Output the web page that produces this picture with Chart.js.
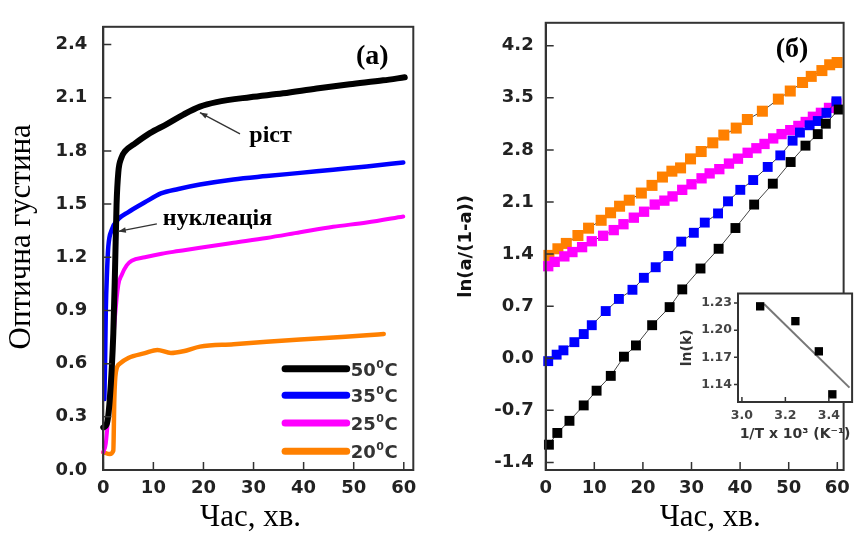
<!DOCTYPE html>
<html><head><meta charset="utf-8">
<script src="https://cdn.jsdelivr.net/npm/chart.js@4.4.0/dist/chart.umd.min.js"></script>
<style>
html,body{margin:0;padding:0;background:#fff;}
#wrap{position:relative;width:858px;height:533px;overflow:hidden;background:#fff;}
canvas{position:absolute;}
</style></head><body>
<div id="wrap">
<canvas id="ca" width="430" height="533" style="left:0;top:0;width:430px;height:533px"></canvas>
<canvas id="cb" width="428" height="533" style="left:430px;top:0;width:428px;height:533px"></canvas>
<canvas id="ci" width="188" height="165" style="left:670px;top:280px;width:188px;height:165px"></canvas>
</div>
<script>
// ---------- tick labels ----------
const timeTicks = [0, 10, 20, 30, 40, 50, 60];
const densityTicks = [0.0, 0.3, 0.6, 0.9, 1.2, 1.5, 1.8, 2.1, 2.4];
const lnTicks = [-1.4, -0.7, 0.0, 0.7, 1.4, 2.1, 2.8, 3.5, 4.2];
const invTTicks = [3.0, 3.2, 3.4];
const lnkTicks = [1.14, 1.17, 1.20, 1.23];

// ---------- series ----------
const tempLabels = ['50', '35', '25', '20'];
const seriesColors = ['#000000', '#0000ff', '#ff00ff', '#ff8000'];

// panel (a): optical density vs time
const timeA50 = [0.0, 0.7, 1.3, 2.0, 2.35, 2.65, 3.0, 3.6, 4.4, 6.0, 9.3, 12.6, 16.0, 19.3, 22.6, 29.3, 35.9, 42.6, 49.2, 55.9, 60.2];
const densA50 = [0.24, 0.26, 0.40, 0.77, 1.14, 1.50, 1.68, 1.76, 1.80, 1.835, 1.90, 1.95, 2.005, 2.05, 2.075, 2.103, 2.125, 2.152, 2.176, 2.198, 2.215];
const timeA35 = [0.2, 0.35, 0.5, 0.75, 1.0, 1.7, 3.0, 5.0, 8.3, 11.5, 15.0, 19.3, 26.0, 32.6, 39.3, 45.9, 52.6, 59.9];
const densA35 = [0.40, 0.60, 0.90, 1.12, 1.26, 1.355, 1.415, 1.455, 1.51, 1.56, 1.585, 1.61, 1.639, 1.658, 1.676, 1.694, 1.712, 1.735];
const timeA25 = [0.0, 0.5, 1.0, 1.67, 2.33, 3.0, 3.67, 4.67, 5.67, 8.3, 11.66, 15.0, 19.3, 26.0, 32.6, 39.3, 45.9, 52.6, 59.9];
const densA25 = [0.10, 0.15, 0.31, 0.586, 0.861, 1.044, 1.10, 1.154, 1.18, 1.20, 1.22, 1.235, 1.254, 1.282, 1.309, 1.341, 1.372, 1.396, 1.43];
const timeA20 = [0.0, 1.3, 2.0, 2.2, 2.5, 3.3, 5.0, 8.3, 10.8, 13.5, 16.0, 19.3, 26.0, 32.6, 39.3, 45.9, 52.6, 56.0];
const densA20 = [0.10, 0.09, 0.11, 0.40, 0.55, 0.60, 0.632, 0.659, 0.677, 0.66, 0.67, 0.696, 0.709, 0.723, 0.736, 0.748, 0.76, 0.767];

// panel (b): ln(a/(1-a)) vs time
const timeB50 = [0.66, 2.39, 4.89, 7.82, 10.47, 13.39, 16.1, 18.57, 21.9, 25.5, 28.1, 31.85, 35.58, 39.04, 42.89, 46.73, 50.4, 53.45, 55.98, 57.63, 60.28];
const lnB50 = [-1.162, -1.004, -0.841, -0.634, -0.436, -0.237, 0.021, 0.172, 0.444, 0.687, 0.925, 1.206, 1.471, 1.75, 2.065, 2.346, 2.637, 2.857, 3.012, 3.152, 3.342];
const timeB35 = [0.52, 2.25, 3.65, 5.9, 7.83, 9.48, 12.35, 15.06, 17.85, 20.2, 22.63, 25.22, 27.89, 30.48, 32.73, 35.46, 37.51, 40.04, 42.69, 45.68, 48.27, 50.8, 52.31, 54.3, 55.98, 57.77, 59.82];
const lnB35 = [-0.039, 0.048, 0.106, 0.216, 0.325, 0.444, 0.634, 0.797, 0.92, 1.081, 1.223, 1.374, 1.567, 1.686, 1.823, 1.946, 2.109, 2.263, 2.395, 2.571, 2.726, 2.924, 3.033, 3.131, 3.188, 3.298, 3.453];
const timeB25 = [0.52, 1.85, 3.84, 5.5, 7.49, 9.48, 11.81, 14.0, 16.0, 18.13, 20.24, 22.43, 24.42, 26.1, 28.09, 30.0, 32.07, 33.73, 35.72, 37.71, 39.56, 41.55, 43.35, 45.02, 46.81, 48.53, 50.32, 51.99, 53.5, 54.98, 56.63, 58.29, 59.82];
const lnB25 = [1.237, 1.295, 1.369, 1.427, 1.493, 1.572, 1.646, 1.722, 1.801, 1.889, 1.969, 2.065, 2.118, 2.175, 2.263, 2.338, 2.418, 2.484, 2.541, 2.616, 2.682, 2.761, 2.822, 2.88, 2.954, 3.012, 3.065, 3.122, 3.175, 3.245, 3.298, 3.364, 3.422];
const timeB20 = [0.66, 2.51, 4.24, 6.63, 8.82, 11.41, 13.35, 15.2, 17.19, 19.68, 21.87, 24.02, 25.96, 27.75, 29.8, 31.99, 34.38, 36.65, 39.2, 41.49, 44.58, 47.87, 50.32, 52.85, 54.64, 56.83, 58.43, 59.96];
const lnB20 = [1.382, 1.471, 1.543, 1.649, 1.748, 1.854, 1.955, 2.043, 2.124, 2.22, 2.323, 2.435, 2.514, 2.558, 2.679, 2.778, 2.895, 2.999, 3.093, 3.208, 3.32, 3.482, 3.591, 3.706, 3.788, 3.866, 3.944, 3.974];

// inset: ln(k) vs 1/T
const invT = [3.084, 3.246, 3.354, 3.416];
const lnK = [1.2264, 1.210, 1.1766, 1.129];
const fitInvT = [3.102, 3.495];
const fitLnK = [1.2289, 1.1364];

// ---------- helpers ----------
const pts = (xs, ys) => xs.map((x, i) => ({x: x, y: ys[i]}));
const tickFont = {family: '"DejaVu Sans", sans-serif', weight: 'bold', size: 18};
const serifTitle = {family: '"Liberation Serif", "Times New Roman", serif', size: 31, lineHeight: 1};
const setTicks = arr => s => { s.ticks = arr.map(v => ({value: v})); };

const boxPlugin = {
  id: 'box',
  beforeDraw(chart, args, o) {
    if (!o.fill) return;
    const c = chart.chartArea, ctx = chart.ctx;
    ctx.save(); ctx.fillStyle = o.fill;
    ctx.fillRect(c.left, c.top, c.right - c.left, c.bottom - c.top);
    ctx.restore();
  },
  afterDraw(chart, args, o) {
    const c = chart.chartArea, ctx = chart.ctx;
    const xs = chart.scales.x, ys = chart.scales.y;
    ctx.save();
    ctx.strokeStyle = o.color || '#333';
    ctx.lineWidth = o.width || 2;
    ctx.strokeRect(c.left, c.top, c.right - c.left, c.bottom - c.top);
    ctx.lineWidth = o.tickWidth || 1.5;
    ctx.beginPath();
    xs.ticks.forEach(t => {
      const px = xs.getPixelForValue(t.value);
      ctx.moveTo(px, c.bottom); ctx.lineTo(px, c.bottom - o.tickX);
    });
    ys.ticks.forEach(t => {
      const py = ys.getPixelForValue(t.value);
      ctx.moveTo(c.left, py); ctx.lineTo(c.left + o.tickY, py);
    });
    ctx.stroke();
    ctx.restore();
  }
};

const legendPlugin = {
  id: 'tempLegend',
  afterDraw(chart, args, o) {
    const ctx = chart.ctx, xs = chart.scales.x, ys = chart.scales.y;
    ctx.save();
    chart.data.datasets.forEach((ds, i) => {
      const y = ys.getPixelForValue(o.rows[i]);
      const x0 = xs.getPixelForValue(o.x0), x1 = xs.getPixelForValue(o.x1);
      ctx.strokeStyle = ds.borderColor; ctx.lineWidth = 7; ctx.lineCap = 'round';
      ctx.beginPath(); ctx.moveTo(x0, y); ctx.lineTo(x1, y); ctx.stroke();
      ctx.fillStyle = '#333'; ctx.textAlign = 'left'; ctx.textBaseline = 'alphabetic';
      let x = x1 + 4; const base = y + 7;
      ctx.font = 'bold 18px "DejaVu Sans"';
      ctx.fillText(tempLabels[i], x, base); x += ctx.measureText(tempLabels[i]).width;
      ctx.font = 'bold 11px "DejaVu Sans"';
      ctx.fillText('0', x + 0.5, base - 8); x += ctx.measureText('0').width + 1;
      ctx.font = 'bold 18px "DejaVu Sans"';
      ctx.fillText('C', x, base);
    });
    ctx.restore();
  }
};

const notesPlugin = {
  id: 'notes',
  afterDraw(chart, args, o) {
    const ctx = chart.ctx, xs = chart.scales.x, ys = chart.scales.y;
    ctx.save();
    (o.arrows || []).forEach(a => {
      const x1 = xs.getPixelForValue(a.from[0]), y1 = ys.getPixelForValue(a.from[1]);
      const x2 = xs.getPixelForValue(a.to[0]), y2 = ys.getPixelForValue(a.to[1]);
      ctx.strokeStyle = '#333'; ctx.fillStyle = '#333'; ctx.lineWidth = 1.3;
      ctx.beginPath(); ctx.moveTo(x1, y1); ctx.lineTo(x2, y2); ctx.stroke();
      const ang = Math.atan2(y2 - y1, x2 - x1), L = 8, W = 0.35;
      ctx.beginPath(); ctx.moveTo(x2, y2);
      ctx.lineTo(x2 - L * Math.cos(ang - W), y2 - L * Math.sin(ang - W));
      ctx.lineTo(x2 - L * Math.cos(ang + W), y2 - L * Math.sin(ang + W));
      ctx.closePath(); ctx.fill();
    });
    (o.items || []).forEach(it => {
      ctx.font = it.font; ctx.fillStyle = '#000';
      ctx.textAlign = 'center'; ctx.textBaseline = 'alphabetic';
      ctx.fillText(it.text, xs.getPixelForValue(it.x), ys.getPixelForValue(it.y));
    });
    ctx.restore();
  }
};

// ---------- panel (a) ----------
const aTimes = [timeA50, timeA35, timeA25, timeA20];
const aDens = [densA50, densA35, densA25, densA20];
const aWidths = [6, 4.5, 4, 4.5];
new Chart(document.getElementById('ca'), {
  type: 'scatter',
  data: {datasets: tempLabels.map((t, i) => ({
    label: t + '°C', data: pts(aTimes[i], aDens[i]), showLine: true,
    borderColor: seriesColors[i], backgroundColor: seriesColors[i], borderWidth: aWidths[i],
    pointRadius: 0, cubicInterpolationMode: 'monotone', clip: false, borderCapStyle: 'round', borderJoinStyle: 'round'
  }))},
  options: {
    responsive: false, animation: false, devicePixelRatio: 1,
    layout: {padding: {left: 0, right: 16.7, top: 15, bottom: 0}},
    plugins: {
      legend: {display: false}, tooltip: {enabled: false},
      box: {color: '#333', width: 2, tickX: 8, tickY: 8},
      tempLegend: {x0: 36.3, x1: 48.6, rows: [0.571, 0.421, 0.265, 0.106]},
      notes: {
        items: [
          {text: 'ріст', x: 33.4, y: 1.85, font: 'bold 24px "Liberation Serif"'},
          {text: 'нуклеація', x: 22.8, y: 1.383, font: 'bold 24px "Liberation Serif"'},
          {text: '(a)', x: 53.7, y: 2.29, font: 'bold 28px "Liberation Serif"'}
        ],
        arrows: [
          {from: [27.3, 1.896], to: [19.3, 2.016]},
          {from: [10.7, 1.388], to: [3.0, 1.346]}
        ]
      }
    },
    scales: {
      x: {type: 'linear', min: 0, max: 61.9, afterBuildTicks: setTicks(timeTicks), afterFit: s => { s.height = 63; },
        grid: {display: false, drawTicks: false}, border: {display: true, color: '#333', width: 2},
        ticks: {padding: 8, color: '#222', font: tickFont, callback: v => String(v)},
        title: {display: true, text: 'Час, хв.\u00a0\u00a0', color: '#000', font: serifTitle, padding: 0}},
      y: {type: 'linear', min: 0, max: 2.5, afterBuildTicks: setTicks(densityTicks), afterFit: s => { s.width = 103.3; },
        grid: {display: false, drawTicks: false}, border: {display: true, color: '#333', width: 2},
        ticks: {padding: 16, color: '#222', font: tickFont, callback: v => v.toFixed(1)},
        title: {display: true, text: '\u00a0\u00a0\u00a0Оптична густина', color: '#000', font: serifTitle, padding: {top: 6.5, bottom: 0}}}
    }
  },
  plugins: [boxPlugin, legendPlugin, notesPlugin]
});

// ---------- panel (b) ----------
const bTimes = [timeB50, timeB35, timeB25, timeB20];
const bLn = [lnB50, lnB35, lnB25, lnB20];
const bRadius = [7, 7, 7.3, 7.8];
new Chart(document.getElementById('cb'), {
  type: 'scatter',
  data: {datasets: tempLabels.map((t, i) => ({
    label: t + '°C', data: pts(bTimes[i], bLn[i]), showLine: true,
    borderColor: '#444', borderWidth: 1, pointStyle: 'rect', pointRadius: bRadius[i],
    pointBackgroundColor: seriesColors[i], pointBorderColor: seriesColors[i], pointBorderWidth: 0, clip: false
  }))},
  options: {
    responsive: false, animation: false, devicePixelRatio: 1,
    layout: {padding: {left: 0, right: 5, top: 15, bottom: 0}},
    plugins: {
      legend: {display: false}, tooltip: {enabled: false},
      box: {color: '#333', width: 2, tickX: 8, tickY: 8},
      notes: {items: [{text: '(б)', x: 50.69, y: 4.047, font: 'bold 28px "Liberation Serif"'}]}
    },
    scales: {
      x: {type: 'linear', min: 0, max: 61.3, afterBuildTicks: setTicks(timeTicks), afterFit: s => { s.height = 63; },
        grid: {display: false, drawTicks: false}, border: {display: true, color: '#333', width: 2},
        ticks: {padding: 8, color: '#222', font: tickFont, callback: v => String(v)},
        title: {display: true, text: '\u00a0\u00a0\u00a0\u00a0Час, хв.', color: '#000', font: serifTitle, padding: 0}},
      y: {type: 'linear', min: -1.502, max: 4.508, afterBuildTicks: setTicks(lnTicks), afterFit: s => { s.width = 115.7; },
        grid: {display: false, drawTicks: false}, border: {display: true, color: '#333', width: 2},
        ticks: {padding: 12, color: '#222', font: tickFont, callback: v => v.toFixed(1)},
        title: {display: true, text: 'ln(a/(1-a))', color: '#111', font: {family: '"DejaVu Sans", sans-serif', weight: 'bold', size: 18}, padding: {top: 26, bottom: 0}}}
    }
  },
  plugins: [boxPlugin, notesPlugin]
});

// ---------- inset ----------
const insetFont = {family: '"DejaVu Sans", sans-serif', weight: 'bold', size: 12.5};
new Chart(document.getElementById('ci'), {
  type: 'scatter',
  data: {datasets: [
    {label: 'ln(k)', data: pts(invT, lnK), pointStyle: 'rect', pointRadius: 5.9,
      pointBackgroundColor: '#000', pointBorderColor: '#000', pointBorderWidth: 0, clip: false},
    {label: 'fit', data: pts(fitInvT, fitLnK), showLine: true, pointRadius: 0, borderColor: '#777', borderWidth: 2}
  ]},
  options: {
    responsive: false, animation: false, devicePixelRatio: 1,
    layout: {padding: {left: 0, right: 2, top: 8, bottom: 0}},
    plugins: {legend: {display: false}, tooltip: {enabled: false},
      box: {color: '#333', width: 2, tickX: 5, tickY: -4, fill: '#fff'}},
    scales: {
      x: {type: 'linear', min: 2.982, max: 3.507, afterBuildTicks: setTicks(invTTicks), afterFit: s => { s.height = 43; },
        grid: {display: false, drawTicks: false}, border: {display: true, color: '#333', width: 2},
        ticks: {padding: 6, color: '#444', font: insetFont, callback: v => v.toFixed(1)},
        title: {display: true, text: '1/T x 10³ (K⁻¹)', color: '#333', font: {family: '"DejaVu Sans", sans-serif', weight: 'bold', size: 14, lineHeight: 1.2}, padding: {top: 0, bottom: 2.6}}},
      y: {type: 'linear', min: 1.1205, max: 1.2406, afterBuildTicks: setTicks(lnkTicks), afterFit: s => { s.width = 68; },
        grid: {display: false, drawTicks: false}, border: {display: true, color: '#333', width: 2},
        ticks: {padding: 6, color: '#444', font: insetFont, callback: v => v.toFixed(2)},
        title: {display: true, text: 'ln(k)', color: '#333', font: {family: '"DejaVu Sans", sans-serif', weight: 'bold', size: 14, lineHeight: 1.2}, padding: {top: 8.6, bottom: 0}}}
    }
  },
  plugins: [boxPlugin]
});
</script>
</body></html>
